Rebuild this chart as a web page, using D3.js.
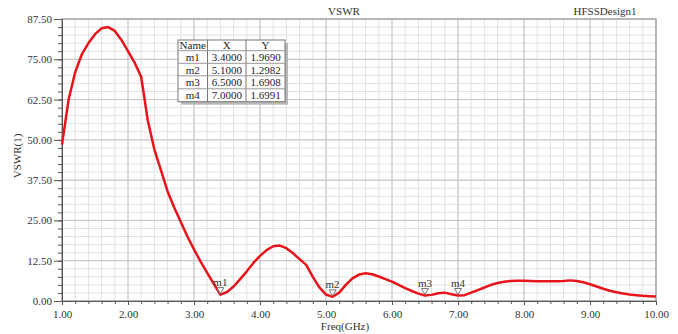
<!DOCTYPE html>
<html>
<head>
<meta charset="utf-8">
<script src="https://cdn.jsdelivr.net/npm/d3@7"></script>
<style>
  html, body { margin: 0; padding: 0; background: #fff; }
  svg { display: block; font-family: "Liberation Serif", "Times New Roman", serif; }
</style>
</head>
<body>
<svg id="chart" width="678" height="334"></svg>
<script>
// VSWR sweep, 1–10 GHz in 0.1 GHz steps
const freq = d3.range(0, 91).map(i => +(1 + i * 0.1).toFixed(1));
const vswr = [
  48.5, 62.5, 71.0, 76.5, 80.0, 82.8, 84.6, 85.0, 83.8, 81.0,
  77.5, 74.0, 69.5, 56.0, 47.0, 40.5, 34.0, 29.0, 24.5, 20.0,
  16.0, 12.2, 8.7, 5.3, 1.969, 2.8, 4.5, 6.8, 9.2, 11.8,
  14.0, 15.8, 17.0, 17.2, 16.4, 14.8, 13.0, 11.2, 7.5, 4.2,
  2.0, 1.2982, 2.6, 5.0, 7.0, 8.2, 8.6, 8.3, 7.6, 6.8,
  6.0, 5.0, 4.0, 3.1, 2.3, 1.6908, 1.9, 2.4, 2.6, 2.1,
  1.6991, 1.8, 2.6, 3.4, 4.2, 5.0, 5.6, 6.0, 6.2, 6.3,
  6.3, 6.2, 6.1, 6.1, 6.1, 6.1, 6.2, 6.4, 6.2, 5.8,
  5.2, 4.5, 3.8, 3.2, 2.7, 2.3, 2.0, 1.8, 1.6, 1.5,
  1.4
];

// markers
const markerNames = ["m1", "m2", "m3", "m4"];
const markerX = [3.4, 5.1, 6.5, 7.0];
const markerY = [1.9690, 1.2982, 1.6908, 1.6991];

const xTicks = [1, 2, 3, 4, 5, 6, 7, 8, 9, 10];
const yTicks = [0, 12.5, 25, 37.5, 50, 62.5, 75, 87.5];

const svg = d3.select("#chart");
const plotL = 62, plotR = 656, plotT = 19, plotB = 301;

const x = d3.scaleLinear().domain([1, 10]).range([plotL, plotR]);
const y = d3.scaleLinear().domain([0, 87.5]).range([plotB, plotT]);

// grid
const grid = svg.append("g");
const xMinor = d3.range(1, 10.0001, 0.2);
const yMinor = d3.range(0, 87.5001, 2.5);
grid.selectAll("line.vx").data(xMinor).join("line")
  .attr("x1", d => x(d)).attr("x2", d => x(d))
  .attr("y1", plotT).attr("y2", plotB)
  .attr("stroke", "#e2e2e2").attr("stroke-width", 1);
grid.selectAll("line.hy").data(yMinor).join("line")
  .attr("y1", d => y(d)).attr("y2", d => y(d))
  .attr("x1", plotL).attr("x2", plotR)
  .attr("stroke", "#e2e2e2").attr("stroke-width", 1);
grid.selectAll("line.vX").data(xTicks).join("line")
  .attr("x1", d => x(d)).attr("x2", d => x(d))
  .attr("y1", plotT).attr("y2", plotB)
  .attr("stroke", "#c4c4c4").attr("stroke-width", 1);
grid.selectAll("line.hY").data(yTicks).join("line")
  .attr("y1", d => y(d)).attr("y2", d => y(d))
  .attr("x1", plotL).attr("x2", plotR)
  .attr("stroke", "#c4c4c4").attr("stroke-width", 1);

// frame
svg.append("rect")
  .attr("x", plotL).attr("y", plotT)
  .attr("width", plotR - plotL).attr("height", plotB - plotT)
  .attr("fill", "none").attr("stroke", "#a0a0a0").attr("stroke-width", 1.2);

// axes
const fmt = d3.format(".2f");
svg.append("g").attr("transform", `translate(0,${plotB})`)
  .call(d3.axisBottom(x).tickValues(xTicks).tickFormat(fmt).tickSize(4).tickPadding(5));
svg.append("g").attr("transform", `translate(0,${plotB})`)
  .call(d3.axisBottom(x).tickValues(xMinor).tickFormat("").tickSize(3))
  .call(g => g.select(".domain").remove());
svg.append("g").attr("transform", `translate(${plotL},0)`)
  .call(d3.axisLeft(y).tickValues(yTicks).tickFormat(fmt).tickSize(8).tickPadding(2));
svg.append("g").attr("transform", `translate(${plotL},0)`)
  .call(d3.axisLeft(y).tickValues(yMinor).tickFormat("").tickSize(4))
  .call(g => g.select(".domain").remove());

svg.selectAll(".domain").attr("stroke", "#555");
svg.selectAll(".tick line").attr("stroke", "#555");
svg.selectAll(".tick text")
  .attr("font-family", "Liberation Serif, serif")
  .attr("font-size", 11).attr("fill", "#333");

// titles
svg.append("text").attr("x", 344).attr("y", 15).attr("text-anchor", "middle")
  .attr("font-size", 11).attr("fill", "#333").text("VSWR");
svg.append("text").attr("x", 605).attr("y", 15).attr("text-anchor", "middle")
  .attr("font-size", 11).attr("fill", "#333").text("HFSSDesign1");
svg.append("text").attr("x", 345).attr("y", 330).attr("text-anchor", "middle")
  .attr("font-size", 11).attr("fill", "#333").text("Freq(GHz)");
svg.append("text").attr("transform", "translate(21,156) rotate(-90)")
  .attr("text-anchor", "middle").attr("font-size", 11).attr("fill", "#333").text("VSWR(1)");

// curve
const pts = freq.map((f, i) => [f, vswr[i]]);
svg.append("path").datum(pts)
  .attr("fill", "none").attr("stroke", "#e8141c").attr("stroke-width", 2.5)
  .attr("stroke-linejoin", "round")
  .attr("d", d3.line().x(d => x(d[0])).y(d => y(d[1])));

// marker triangles and names
const mk = svg.append("g");
markerX.forEach((mx, i) => {
  const px = x(mx), py = y(markerY[i]) - 1;
  mk.append("path")
    .attr("d", `M${px - 3.5},${py - 6} L${px + 3.5},${py - 6} L${px},${py} Z`)
    .attr("fill", "#fff").attr("stroke", "#666").attr("stroke-width", 0.9);
  mk.append("text").attr("x", px).attr("y", py - 8).attr("text-anchor", "middle")
    .attr("font-size", 11).attr("fill", "#333").text(markerNames[i]);
});

// marker table
const colEdges = [178, 207.5, 246, 285];
const rowEdges = [40, 50.7, 63.3, 75.8, 88.8, 101.7];
const tbl = svg.append("g");
tbl.append("rect").attr("x", colEdges[0] + 3).attr("y", rowEdges[0] + 3)
  .attr("width", colEdges[3] - colEdges[0]).attr("height", rowEdges[5] - rowEdges[0])
  .attr("fill", "#b8b8b8");
tbl.append("rect").attr("x", colEdges[0]).attr("y", rowEdges[0])
  .attr("width", colEdges[3] - colEdges[0]).attr("height", rowEdges[5] - rowEdges[0])
  .attr("fill", "#fff").attr("stroke", "#777").attr("stroke-width", 1);
colEdges.slice(1, 3).forEach(cx => tbl.append("line")
  .attr("x1", cx).attr("x2", cx).attr("y1", rowEdges[0]).attr("y2", rowEdges[5])
  .attr("stroke", "#777"));
rowEdges.slice(1, 5).forEach(ry => tbl.append("line")
  .attr("x1", colEdges[0]).attr("x2", colEdges[3]).attr("y1", ry).attr("y2", ry)
  .attr("stroke", "#999"));
const rows = [["Name", "X", "Y"]].concat(markerNames.map((n, i) =>
  [n, d3.format(".4f")(markerX[i]), d3.format(".4f")(markerY[i])]));
rows.forEach((r, ri) => {
  r.forEach((c, ci) => {
    tbl.append("text")
      .attr("x", (colEdges[ci] + colEdges[ci + 1]) / 2)
      .attr("y", (rowEdges[ri] + rowEdges[ri + 1]) / 2 + 4)
      .attr("text-anchor", "middle").attr("font-size", 11).attr("fill", "#222")
      .text(c);
  });
});
</script>
</body>
</html>
